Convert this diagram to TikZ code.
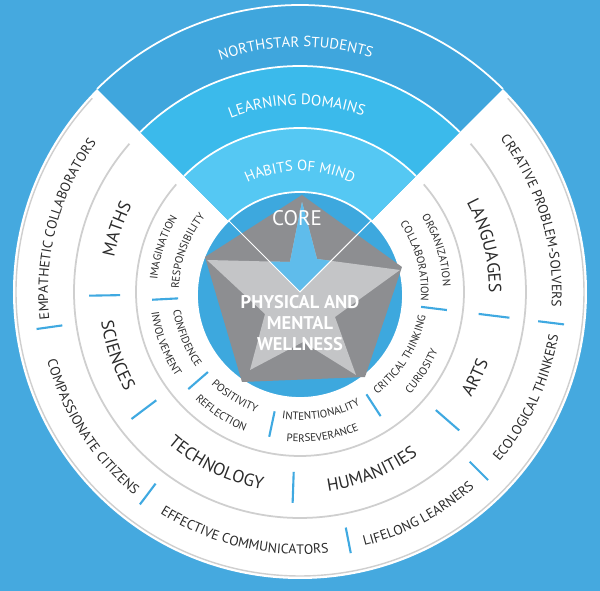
\documentclass[tikz,border=0pt]{standalone}
\usepackage{fontspec}
\setmainfont{PT Sans}
\usetikzlibrary{decorations.text}

\definecolor{bgblue}{HTML}{45A9DF}
\definecolor{northblue}{HTML}{3FA6DD}
\definecolor{domainblue}{HTML}{3BBAEB}
\definecolor{habitblue}{HTML}{55C8F3}
\definecolor{coreblue}{HTML}{3DA8DE}
\definecolor{stargrey}{HTML}{8D8E91}
\definecolor{starlight}{HTML}{C4C5C7}
\definecolor{starblue}{HTML}{5FBCEB}
\definecolor{ringgrey}{HTML}{CFCFCF}
\definecolor{tickblue}{HTML}{3FA9E1}
\definecolor{ink}{HTML}{2B2B2B}

% text along an arc: colour, size, angle, radius, text
\newcommand{\cwtext}[5]{%
  \path[decorate,decoration={text along path,text align=center,
    text={|\color{#1}\fontsize{#2}{#2}\selectfont|#5}}]
    (#3+60:#4) arc[start angle=#3+60,end angle=#3-60,radius=#4];}
\newcommand{\ccwtext}[5]{%
  \path[decorate,decoration={text along path,text align=center,
    text={|\color{#1}\fontsize{#2}{#2}\selectfont|#5}}]
    (#3-60:#4) arc[start angle=#3-60,end angle=#3+60,radius=#4];}

\tikzset{
  starpath/.style={insert path={(2,90) -- (17,33) -- (100,22) -- (35,-25) -- (56,-83)
    -- (3,-50) -- (-50,-78) -- (-35,-22) -- (-93,32) -- (-10,30) -- cycle}},
  tick/.style={tickblue, line width=1.2pt},
  ringline/.style={ringgrey, line width=1pt}
}

\begin{document}
\begin{tikzpicture}[x=0.02cm,y=0.02cm]
	\useasboundingbox (-300,-299) rectangle (300,292);
	\fill[bgblue] (-300,-299) rectangle (300,292);

	\fill[white] (0,0) circle[radius=287];
	\draw[ringgrey, line width=0.8pt] (137:284) arc[start angle=137,end angle=403,radius=284];
	\foreach \r in {164,226}
		\draw[ringline] (139:\r) arc[start angle=139,end angle=401,radius=\r];

	\fill[northblue] (0,0) -- (45:287) arc[start angle=45,end angle=135,radius=287] -- cycle;
	\fill[domainblue] (0,0) -- (45:226) arc[start angle=45,end angle=135,radius=226] -- cycle;
	\fill[habitblue] (0,0) -- (45:164) arc[start angle=45,end angle=135,radius=164] -- cycle;
	\foreach \r in {164,226,287}
		\draw[white, line width=1pt] (45:\r) arc[start angle=45,end angle=135,radius=\r];

	\filldraw[draw=white, fill=coreblue, line width=1pt] (0,-3) circle[radius=103];
	\fill[stargrey] (2,97) -- (102,25) -- (65,-85) -- (-58,-90) -- (-95,35) -- cycle;
	\fill[starlight, starpath];
	\begin{scope}
		\clip (0,0) -- (45:150) -- (135:150) -- cycle;
		\fill[starblue, starpath];
	\end{scope}
	\draw[white, line width=0.6pt] (135:101) -- (0,0) -- (45:101);

	\node[text=white, font=\fontsize{12}{12}\selectfont] (core) at (-3,74) {CORE};
	\node[text=white, font=\bfseries\fontsize{10.5}{12}\selectfont, align=center]
		(wellness) at (0,-31) {PHYSICAL AND\\MENTAL\\WELLNESS};

	\foreach \a in {188,233,281,315,353}
		\draw[tick] (\a:240) -- (\a:266);
	\foreach \a in {181,217,268,319,353}
		\draw[tick] (\a:180) -- (\a:211);
	\foreach \a in {183,221,258,303,353}
		\draw[tick] (\a:122) -- (\a:148);

	\cwtext{white}{8.4}{91}{245}{NORTHSTAR STUDENTS}
	\cwtext{white}{8.6}{91}{187}{LEARNING DOMAINS}
	\cwtext{white}{8.4}{90}{121}{HABITS OF MIND}

	\cwtext{ink}{7.8}{165}{252}{EMPATHETIC COLLABORATORS}
	\ccwtext{ink}{7.8}{213}{262}{COMPASSIONATE CITIZENS}
	\ccwtext{ink}{7.8}{257}{262}{EFFECTIVE COMMUNICATORS}
	\ccwtext{ink}{7.8}{298}{262}{LIFELONG LEARNERS}
	\ccwtext{ink}{7.8}{335}{262}{ECOLOGICAL THINKERS}
	\cwtext{ink}{7.8}{17}{252}{CREATIVE PROBLEM-SOLVERS}

	\cwtext{ink}{10}{161}{189}{MATHS}
	\ccwtext{ink}{10}{199}{201}{SCIENCES}
	\ccwtext{ink}{10}{244}{201}{TECHNOLOGY}
	\ccwtext{ink}{10}{292}{201}{HUMANITIES}
	\ccwtext{ink}{10}{334}{201}{ARTS}
	\cwtext{ink}{10}{14}{189}{LANGUAGES}

	\cwtext{ink}{6.2}{162}{143}{IMAGINATION}
	\cwtext{ink}{6.2}{160}{121}{RESPONSIBILITY}
	\ccwtext{ink}{6.2}{202}{128}{CONFIDENCE}
	\ccwtext{ink}{6.2}{201}{150}{INVOLVEMENT}
	\ccwtext{ink}{6.2}{238}{128}{POSITIVITY}
	\ccwtext{ink}{6.2}{237}{150}{REFLECTION}
	\ccwtext{ink}{6.2}{280}{128}{INTENTIONALITY}
	\ccwtext{ink}{6.2}{279}{150}{PERSEVERANCE}
	\ccwtext{ink}{6.2}{328}{128}{CRITICAL THINKING}
	\ccwtext{ink}{6.2}{327}{150}{CURIOSITY}
	\cwtext{ink}{6.2}{17}{143}{ORGANIZATION}
	\cwtext{ink}{6.2}{15}{121}{COLLABORATION}
\end{tikzpicture}
\end{document}
